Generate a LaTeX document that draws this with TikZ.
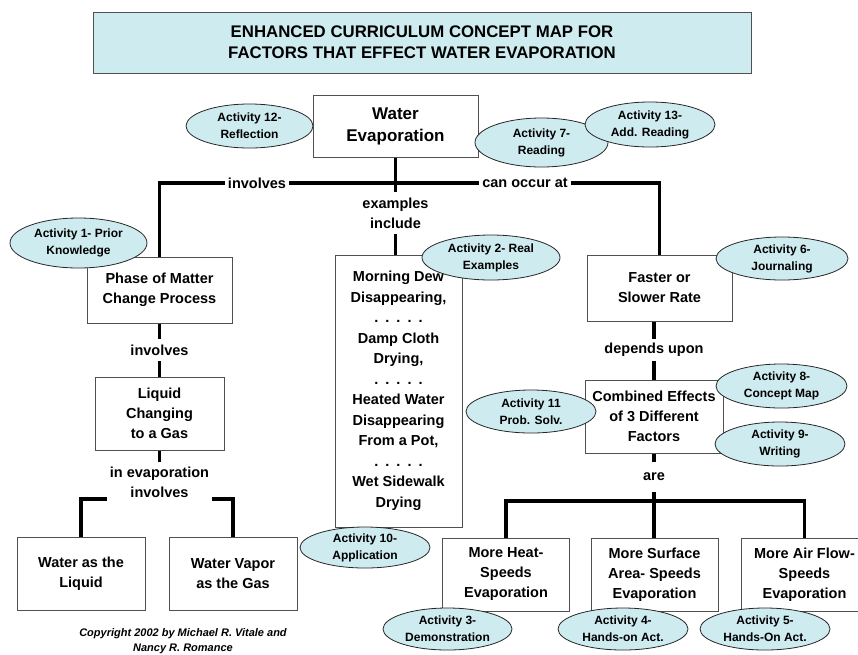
\documentclass[tikz,border=0pt]{standalone}
\usepackage{fontspec}
\setmainfont{Liberation Sans}
\usetikzlibrary{shapes.geometric}
\definecolor{paleblue}{RGB}{206,235,240}
\definecolor{boxline}{RGB}{80,80,80}
\newcommand\cmapfont{\fontsize{14.5}{20}\selectfont\bfseries}
\newcommand\exfont{\fontsize{14.5}{20.5}\selectfont\bfseries}
\newcommand\actfnt{\fontsize{12}{17}\selectfont\bfseries}
\newcommand\ttlfnt{\fontsize{16.8}{21}\selectfont\bfseries}
\newcommand\wefnt{\fontsize{17}{22}\selectfont\bfseries}
\newcommand\copyfnt{\fontsize{11}{15}\selectfont\bfseries\itshape}
\newcommand\fivedots{.\hspace{7pt}.\hspace{7pt}.\hspace{7pt}.\hspace{7pt}.}
\begin{document}
\begin{tikzpicture}[x=1pt,y=-1pt,
  box/.style={draw=boxline, line width=1pt, fill=white, align=center, font=\cmapfont, inner sep=0pt},
  act/.style={ellipse, draw=black!85, line width=0.8pt, fill=paleblue, align=center, font=\actfnt, inner sep=0pt},
  conn/.style={line width=3.3pt},
  lbl/.style={fill=white, font=\cmapfont, align=center, inner xsep=3pt, inner ysep=2pt},
  ttl/.style={draw=boxline, line width=1pt, fill=paleblue, align=center, font=\ttlfnt, inner sep=0pt}
]
\useasboundingbox (0,0) rectangle (858,654);
\clip (0,0) rectangle (858,654);

% title
\node[ttl, minimum width=658pt, minimum height=61pt] (title) at (422,42.5)
  {ENHANCED CURRICULUM CONCEPT MAP FOR\\FACTORS THAT EFFECT WATER EVAPORATION};

% junction coordinates
\coordinate (tj) at (395.5,183);
\coordinate (j3) at (159.5,499);
\coordinate (j4) at (654,501);

% concept boxes (positions)
\path
  node[box, font=\wefnt, minimum width=165pt, minimum height=62pt] (we) at (395.5,126) {Water\\Evaporation}
  node[box, minimum width=145pt, minimum height=66pt] (phase) at (159.5,290) {Phase of Matter\\Change Process}
  node[box, minimum width=129pt, minimum height=73pt] (liquid) at (159.5,413.5) {Liquid\\Changing\\to a Gas}
  node[box, minimum width=128pt, minimum height=73pt] (wl) at (81,573.5) {Water as the\\Liquid}
  node[box, minimum width=128pt, minimum height=73pt] (wv) at (233,573.5) {Water Vapor\\as the Gas}
  node[box, font=\exfont, minimum width=127pt, minimum height=272pt] (examples) at (398.5,391)
    {Morning Dew\\Disappearing,\\\fivedots\\Damp Cloth\\Drying,\\\fivedots\\Heated Water\\Disappearing\\From a Pot,\\\fivedots\\Wet Sidewalk\\Drying}
  node[box, minimum width=145pt, minimum height=66pt] (faster) at (659.5,288) {Faster or\\Slower Rate}
  node[box, minimum width=138pt, minimum height=73pt] (combined) at (654,416.5) {Combined Effects\\of 3 Different\\Factors}
  node[box, minimum width=127pt, minimum height=73pt] (heat) at (506,574.5) {More Heat-\\Speeds\\Evaporation}
  node[box, minimum width=127pt, minimum height=73pt] (surface) at (654.5,574.5) {More Surface\\Area- Speeds\\Evaporation}
  node[box, minimum width=127pt, minimum height=73pt] (air) at (804.5,574.5) {More Air Flow-\\Speeds\\Evaporation};

% connectors
\draw[conn] (phase.north) |- (tj) -| (faster.north);
\draw[conn] (we.south) -- (we.south |- examples.north);
\draw[conn] (phase.south) -- (liquid.north);
\draw[conn] (liquid.south) -- (j3);
\draw[conn] (wl.north) |- (j3) -| (wv.north);
\draw[conn] (combined.north |- faster.south) -- (combined.north);
\draw[conn] (combined.south) -- (combined.south |- surface.north);
\draw[conn] (heat.north) |- (j4) -| (air.north);

% connector labels
\node[lbl] (l1) at (257,183) {involves};
\node[lbl] (l2) at (525,183) {can occur at};
\node[lbl, inner ysep=6pt] (l3) at (395.5,213) {examples\\include};
\node[lbl, inner ysep=5.5pt] (l4) at (159.5,350) {involves};
\node[lbl, inner ysep=5pt] (l5) at (159.5,482) {in evaporation\\involves};
\node[lbl, inner ysep=4pt] (l6) at (654,350) {depends upon};
\node[lbl, inner ysep=11pt] (l7) at (654,477) {are};

% activity ellipses
\node[act, minimum width=127pt, minimum height=44pt] (a12) at (249.5,126) {Activity 12-\\Reflection};
\node[act, minimum width=133pt, minimum height=49pt] (a7) at (541.5,142.5) {Activity 7-\\Reading};
\node[act, minimum width=130pt, minimum height=45pt] (a13) at (650,124.5) {Activity 13-\\Add. Reading};
\node[act, minimum width=137pt, minimum height=50pt] (a1) at (78.5,243) {Activity 1- Prior\\Knowledge};
\node[act, minimum width=138pt, minimum height=45pt] (a2) at (491,257.5) {Activity 2- Real\\Examples};
\node[act, minimum width=132pt, minimum height=43pt] (a6) at (782,258.5) {Activity 6-\\Journaling};
\node[act, minimum width=131pt, minimum height=44pt] (a8) at (781.5,386) {Activity 8-\\Concept Map};
\node[act, minimum width=130pt, minimum height=44pt] (a9) at (780,444) {Activity 9-\\Writing};
\node[act, minimum width=130pt, minimum height=43pt] (a11) at (531,411.5) {Activity 11\\Prob. Solv.};
\node[act, minimum width=130pt, minimum height=41pt] (a10) at (365,547.5) {Activity 10-\\Application};
\node[act, minimum width=129pt, minimum height=42pt] (a3) at (447.5,629) {Activity 3-\\Demonstration};
\node[act, minimum width=130pt, minimum height=42pt] (a4) at (623,629) {Activity 4-\\Hands-on Act.};
\node[act, minimum width=130pt, minimum height=42pt] (a5) at (765,629) {Activity 5-\\Hands-On Act.};

% copyright
\node[font=\copyfnt, align=center, inner sep=0pt] (copy) at (183,641) {Copyright 2002 by Michael R. Vitale and\\Nancy R. Romance};
\end{tikzpicture}
\end{document}
